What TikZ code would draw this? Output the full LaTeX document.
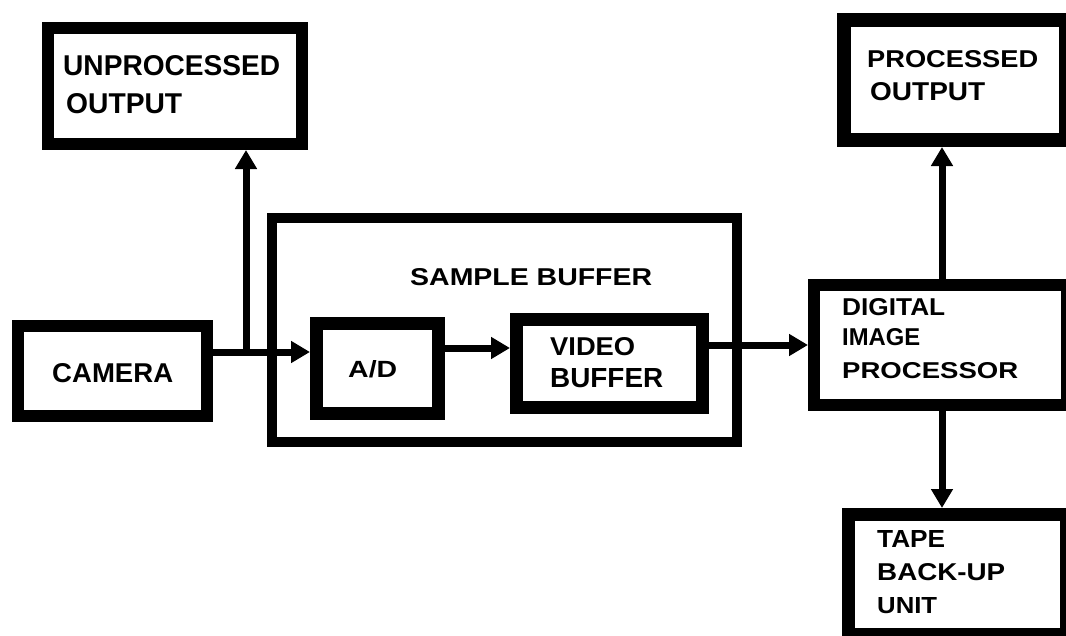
\documentclass[tikz,border=0pt]{standalone}
\usepackage{fontspec}
\setmainfont{Liberation Sans}
\usetikzlibrary{arrows.meta}
% stretch a capital-letter label to a given width and cap height (in pt)
\newcommand{\fitto}[3]{\resizebox{#1pt}{#2pt}{#3}}
\begin{document}
\begin{tikzpicture}[x=1pt,y=-1pt,
  blk/.style={draw=black,fill=white,inner sep=0pt,line width=#1},
  blk/.default=12pt,
  lbl/.style={anchor=base west,inner sep=0pt,font=\bfseries},
  conn/.style={draw=black,line width=7pt,-{Triangle[length=19pt,width=21pt]}}]
\fill[white] (0,0) rectangle (1066,635);
\useasboundingbox (0,0) rectangle (1066,635);

% enclosing sample buffer
\node[blk=10pt,minimum width=465pt,minimum height=224pt] (sample) at (504.5,330) {};
% blocks
\node[blk=12pt,minimum width=254pt,minimum height=116pt] (unproc) at (175,86) {};
\node[blk=12pt,minimum width=189pt,minimum height=90pt] (camera) at (112.5,371) {};
\node[blk=13pt,minimum width=122pt,minimum height=90pt] (ad) at (377.5,368.5) {};
\node[blk=13pt,minimum width=186pt,minimum height=88pt] (video) at (609.5,363.5) {};
\node[blk=12pt,minimum width=253pt,minimum height=120pt] (dip) at (940.5,345) {};
\node[blk=14pt,minimum width=222pt,minimum height=120pt] (proc) at (955,80) {};
\node[blk=13pt,minimum width=218pt,minimum height=120pt] (tape) at (957.5,574.5) {};

% labels
\node[lbl] (tUnproc1) at (63,75) {\fitto{217}{20}{UNPROCESSED}};
\node[lbl] (tUnproc2) at (66,113) {\fitto{116}{20}{OUTPUT}};
\node[lbl] (tCamera) at (52,382) {\fitto{121}{19}{CAMERA}};
\node[lbl] (tSample) at (410,285) {\fitto{242}{17}{SAMPLE BUFFER}};
\node[lbl] (tAD) at (348,377) {\fitto{49}{17}{A/D}};
\node[lbl] (tVideo1) at (550,355) {\fitto{85}{18}{VIDEO}};
\node[lbl] (tVideo2) at (550,387) {\fitto{113}{19}{BUFFER}};
\node[lbl] (tProc1) at (867,67) {\fitto{171}{17}{PROCESSED}};
\node[lbl] (tProc2) at (870,100) {\fitto{115}{18}{OUTPUT}};
\node[lbl] (tDip1) at (842,315) {\fitto{103}{17}{DIGITAL}};
\node[lbl] (tDip2) at (842,345) {\fitto{78}{17}{IMAGE}};
\node[lbl] (tDip3) at (842,378) {\fitto{176}{16}{PROCESSOR}};
\node[lbl] (tTape1) at (877,547) {\fitto{68}{17}{TAPE}};
\node[lbl] (tTape2) at (877,580) {\fitto{128}{17}{BACK-UP}};
\node[lbl] (tTape3) at (877,613) {\fitto{60}{16}{UNIT}};

% connector levels
\coordinate (j) at (246,352);
\coordinate (lvlA) at (0,348);
\coordinate (lvlB) at (0,345);
\coordinate (colP) at (942,0);

% connectors
\draw[conn] (camera.east |- j) -- (ad.west |- j);
\draw[conn] (j) -- (unproc.south -| j);
\draw[conn] (ad.east |- lvlA) -- (video.west |- lvlA);
\draw[conn] (video.east |- lvlB) -- (dip.west |- lvlB);
\draw[conn] (dip.north -| colP) -- (proc.south -| colP);
\draw[conn] (dip.south -| colP) -- (tape.north -| colP);
\end{tikzpicture}
\end{document}
